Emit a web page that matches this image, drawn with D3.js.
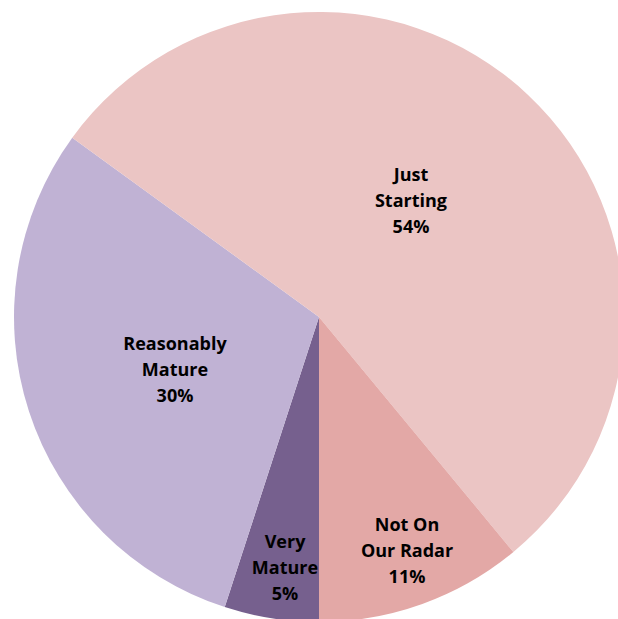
<!DOCTYPE html>
<html>
<head>
<meta charset="utf-8">
<script src="https://cdn.jsdelivr.net/npm/d3@7"></script>
<style>
  html, body { margin: 0; padding: 0; background: #fff; }
  svg { display: block; }
</style>
</head>
<body>
<svg id="chart" width="618" height="619"></svg>
<script>
// Maturity survey shares, in drawing order clockwise from 6 o'clock
const categories = ["Very Mature", "Reasonably Mature", "Just Starting", "Not On Our Radar"];
const values = [5, 30, 54, 11];
const labelLines = [["Very", "Mature"], ["Reasonably", "Mature"], ["Just", "Starting"], ["Not On", "Our Radar"]];
const colors = ["#76608e", "#c0b2d4", "#ebc5c4", "#e3a8a6"];

// Label anchor positions relative to the pie centre
const labelOffsets = [[-34, 251], [-144, 53], [92, -116], [88, 234]];

const width = 618, height = 619;
const cx = 319, cy = 317, radius = 305;

const svg = d3.select("#chart");
const g = svg.append("g").attr("transform", `translate(${cx},${cy})`);

const pie = d3.pie()
  .sort(null)
  .value(d => d)
  .startAngle(Math.PI)
  .endAngle(Math.PI * 3);

const arc = d3.arc().innerRadius(0).outerRadius(radius);
const arcs = pie(values);

g.selectAll("path.slice")
  .data(arcs)
  .join("path")
  .attr("class", "slice")
  .attr("d", arc)
  .attr("fill", (d, i) => colors[i])
  .attr("stroke", "none");

const lineH = 26;
const labels = g.selectAll("text.label")
  .data(arcs)
  .join("text")
  .attr("class", "label")
  .attr("text-anchor", "middle")
  .attr("font-family", "'Open Sans', sans-serif")
  .attr("font-weight", "bold")
  .attr("font-size", "18px")
  .attr("fill", "#000");

labels.each(function(d, i) {
  const t = d3.select(this);
  const lines = labelLines[i].concat([d.data + "%"]);
  const [ox, oy] = labelOffsets[i];
  const top = oy - (lines.length - 1) * lineH / 2;
  lines.forEach((s, k) => {
    t.append("tspan")
      .attr("x", ox)
      .attr("y", top + k * lineH)
      .attr("dy", "0.35em")
      .text(s);
  });
});
</script>
</body>
</html>
